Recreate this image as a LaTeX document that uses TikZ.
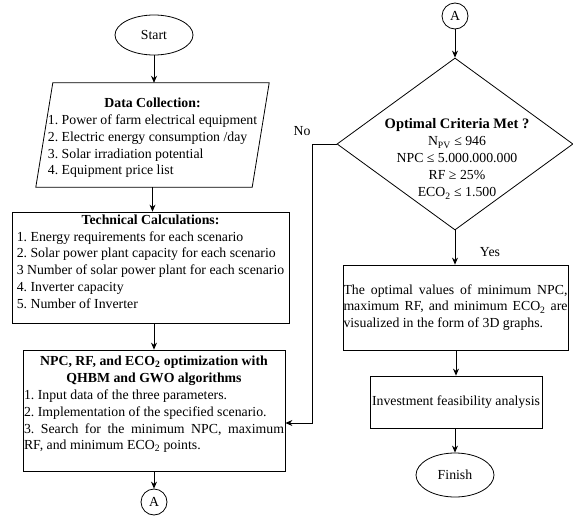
\documentclass[tikz,border=0pt]{standalone}
\usepackage{fontspec}
\setmainfont{Liberation Serif}
\usetikzlibrary{shapes.geometric,arrows.meta}
\hyphenpenalty=10000
\exhyphenpenalty=10000
\begin{document}
\begin{tikzpicture}[x=1pt,y=-1pt,
  every node/.style={font=\fontsize{13.8}{16.8}\selectfont\frenchspacing},
  line/.style={line width=0.8pt, draw=black},
  arr/.style={line width=0.8pt, -{Stealth[length=7pt,width=6pt]}},
  box/.style={draw, line width=0.8pt, rectangle, inner sep=0pt},
  term/.style={draw, line width=0.8pt, ellipse, inner sep=0pt},
  conn/.style={draw, line width=0.8pt, circle, minimum size=26pt, inner sep=0pt},
  lbl/.style={inner sep=0pt}
]
\useasboundingbox (0,0) rectangle (573,522);

% left column
\node[term, minimum width=78pt, minimum height=40pt] (start) at (154,35) {Start};

\node[inner sep=0pt, minimum width=216pt, minimum height=104pt] (data) at (152.5,135)
 {\begin{tabular}{@{}l@{}}
  \multicolumn{1}{@{}c@{}}{\rule{0pt}{17.8pt}\bfseries Data Collection:}\\
  1. Power of farm electrical equipment\\
  2. Electric energy consumption /day\\
  3. Solar irradiation potential\\
  4. Equipment price list
  \end{tabular}};
\draw[line] ([xshift=8.5pt]data.north west) -- ([xshift=8.5pt]data.north east)
  -- ([xshift=-8.5pt]data.south east) -- ([xshift=-8.5pt]data.south west) -- cycle;

\node[box, minimum width=277pt, minimum height=111pt] (tech) at (150.5,267.5)
 {\begin{tabular}{@{}l@{}}
  \multicolumn{1}{@{}c@{}}{\bfseries Technical Calculations:}\\
  1. Energy requirements for each scenario\\
  2. Solar power plant capacity for each scenario\\
  3 Number of solar power plant for each scenario\\
  4. Inverter capacity\\
  5. Number of Inverter\rule[-14pt]{0pt}{14pt}
  \end{tabular}};

\node[box, minimum width=262pt, minimum height=121pt, text width=260pt, align=justify] (npc) at (154,410.5)
 {{\centering\bfseries NPC, RF, and ECO\textsubscript{2} optimization with\\ QHBM and GWO algorithms\par}
  1. Input data of the three parameters.\par
  2. Implementation of the specified scenario.\par
  3. Search for the minimum NPC, maximum\linebreak RF, and minimum ECO\textsubscript{2} points.\par\kern12pt};

\node[conn] (abot) at (154,502) {A};

% right column
\node[conn] (atop) at (455,16) {A};
\node[draw, line width=0.8pt, diamond, minimum width=236pt, minimum height=172pt, inner sep=0pt] (dia) at (455,144) {};
\node[lbl, align=center, font=\fontsize{13.8}{17}\selectfont\frenchspacing] (crit) at (457,159)
 {{\fontsize{14.5}{17}\selectfont\bfseries Optimal Criteria Met ?}\\
  N\textsubscript{PV} ≤ 946\\
  NPC ≤ 5.000.000.000\\
  RF ≥ 25\%\\
  ECO\textsubscript{2} ≤ 1.500};

\node[box, minimum width=225pt, minimum height=85pt, text width=224pt, align=justify] (opt) at (455.5,307.5)
 {The optimal values of minimum NPC,\linebreak maximum RF, and minimum ECO\textsubscript{2} are\linebreak visualized in the form of 3D graphs.};

\node[box, minimum width=172pt, minimum height=52pt] (inv) at (456,402) {Investment feasibility analysis};

\node[term, minimum width=78pt, minimum height=44pt] (fin) at (455,475) {Finish};

\node[lbl] (yes) at (490,252) {Yes};
\node[lbl] (no) at (302,131) {No};

% connectors
\draw[arr] (start.south) -- (start.south |- data.north);
\draw[arr] (data.south) -- (data.south |- tech.north);
\draw[arr] (tech.south -| npc.north) -- (npc.north);
\draw[arr] (npc.south) -- (abot.north);
\draw[arr] (atop.south) -- (dia.north);
\draw[arr] (dia.south) -- (dia.south |- opt.north);
\draw[arr] (opt.south -| inv.north) -- (inv.north);
\draw[arr] (inv.south) -- (inv.south -| fin.north) -- (fin.north);
\draw[arr] (dia.west) -- ++(-24,0) |- ([yshift=-12.5pt]npc.east);
\end{tikzpicture}
\end{document}
